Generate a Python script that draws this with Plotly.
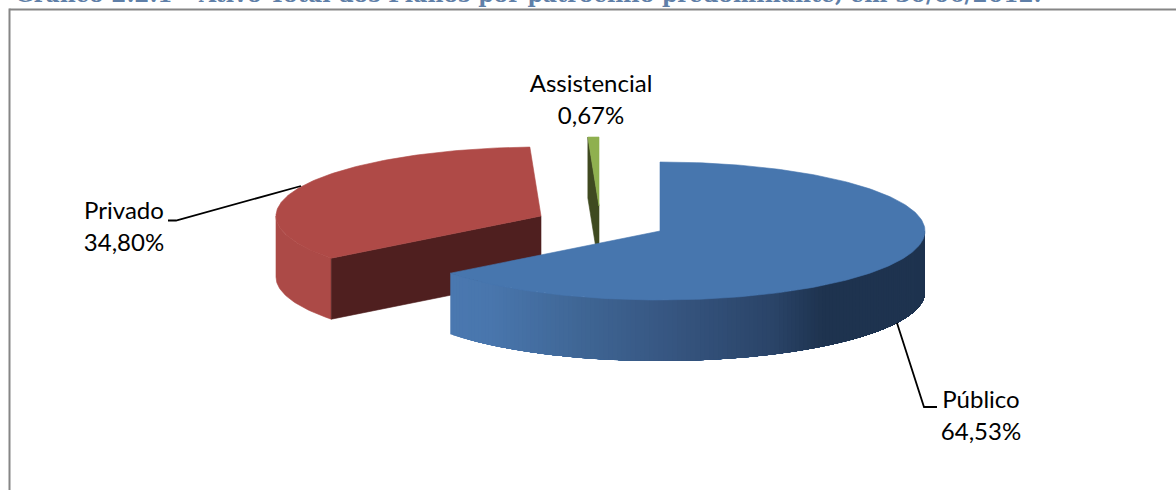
import math
import plotly.graph_objects as go

# ---- data ----
categories = ["Público", "Privado", "Assistencial"]
shares = [64.53, 34.80, 0.67]
title_text = "Gráfico 2.2.1 – Ativo Total dos Planos por patrocínio predominante, em 30/06/2012."

# ---- drawing parameters (projection of the 3-D pie, canvas units) ----
W, H = 1176, 490
RX, RY, DEPTH = 265.0, 69.0, 61.0
apex = {"Público": (660, 231), "Privado": (541, 216), "Assistencial": (599, 206)}
top_col = {"Público": "#4776AE", "Privado": "#AF4A47", "Assistencial": "#8FB04F"}
cut_col = {"Privado": "#4F1F1F", "Assistencial": "#3F4A20"}
label_pos = {"Público": (981, 418), "Privado": (124, 229), "Assistencial": (591, 102)}
leaders = {"Público": ([897, 924, 937], [323, 407, 407]),
           "Privado": ([301, 176, 168], [186, 220.5, 220.5])}
blue_stops = [(450, (74, 120, 176)), (490, (73, 118, 173)), (580, (63, 102, 149)),
              (673, (54, 85, 128)), (773, (42, 68, 104)), (823, (30, 51, 79)), (925, (30, 51, 79))]


def point(name, deg, drop=0.0):
    a = math.radians(deg)
    cx, cy = apex[name]
    return cx + RX * math.sin(a), cy - RY * math.cos(a) + drop


def arc(name, d0, d1, drop=0.0, step=1.0):
    n = max(2, int(abs(d1 - d0) / step) + 1)
    pts = [point(name, d0 + (d1 - d0) * i / (n - 1), drop) for i in range(n)]
    return [p[0] for p in pts], [p[1] for p in pts]


def blue_colour(x):
    for (x0, c0), (x1, c1) in zip(blue_stops, blue_stops[1:]):
        if x <= x1:
            t = max(0.0, (x - x0) / (x1 - x0))
            return "rgb(%d,%d,%d)" % tuple(round(a + (b - a) * t) for a, b in zip(c0, c1))
    return "rgb(%d,%d,%d)" % blue_stops[-1][1]


def poly(xs, ys, colour, outline=0.6):
    return go.Scatter(x=xs + xs[:1], y=ys + ys[:1], mode="lines", fill="toself", fillcolor=colour,
                      line=dict(color=colour, width=outline), hoverinfo="skip", showlegend=False)


# slice spans, clockwise from 12 o'clock
spans = {}
start = 0.0
for name, s in zip(categories, shares):
    spans[name] = (start, start + s * 3.6)
    start += s * 3.6

fig = go.Figure()

# Assistencial
d0, d1 = spans["Assistencial"]
p0 = point("Assistencial", d0)
ax, ay = apex["Assistencial"]
fig.add_trace(poly([p0[0], ax, ax, p0[0]], [p0[1], ay, ay + DEPTH, p0[1] + DEPTH], cut_col["Assistencial"]))
xs, ys = arc("Assistencial", d0, d1, step=0.5)
fig.add_trace(poly(xs + [ax], ys + [ay], top_col["Assistencial"]))

# Privado
d0, d1 = spans["Privado"]
wall_end = 270.0
xa, ya = arc("Privado", d0, wall_end)
xb, yb = arc("Privado", wall_end, d0, drop=DEPTH)
fig.add_trace(poly(xa + xb, ya + yb, "#AC4A47"))
p0 = point("Privado", d0)
ax, ay = apex["Privado"]
fig.add_trace(poly([ax, p0[0], p0[0], ax], [ay, p0[1], p0[1] + DEPTH, ay + DEPTH], cut_col["Privado"]))
xs, ys = arc("Privado", d0, d1)
fig.add_trace(poly(xs + [ax], ys + [ay], top_col["Privado"]))

# Público: outer wall, each band overlaps the next to avoid seams
d0, d1 = spans["Público"]
deg = d1
while deg > 90.0:
    nxt = max(deg - 1.0, 90.0)
    xa, ya = arc("Público", 90.0, deg, step=1.0)
    xb, yb = arc("Público", deg, 90.0, drop=DEPTH, step=1.0)
    xm = (point("Público", deg)[0] + point("Público", nxt)[0]) / 2
    fig.add_trace(poly(xa + xb, ya + yb, blue_colour(xm), outline=0))
    deg = nxt
ax, ay = apex["Público"]
xs, ys = arc("Público", d0, d1)
fig.add_trace(poly(xs + [ax], ys + [ay], top_col["Público"]))

# leader lines
for name, (lx, ly) in leaders.items():
    fig.add_trace(go.Scatter(x=lx, y=ly, mode="lines", line=dict(color="#000000", width=1.8),
                             hoverinfo="skip", showlegend=False))

# data labels
fig.add_trace(go.Scatter(
    x=[label_pos[c][0] for c in categories],
    y=[label_pos[c][1] for c in categories],
    mode="text",
    text=[f"{c}<br>{s:.2f}%".replace(".", ",") for c, s in zip(categories, shares)],
    textposition="middle center",
    textfont=dict(family="Lato", size=24, color="#000000"),
    hoverinfo="skip", showlegend=False))

# cropped title at the top of the picture
fig.add_trace(go.Scatter(
    x=[15], y=[-4], mode="text", text=[f"<b>{title_text}</b>"],
    textposition="middle right",
    textfont=dict(family="DejaVu Serif", size=22, color="#5F7FA8"),
    hoverinfo="skip", showlegend=False))

fig.update_layout(
    width=W, height=H, margin=dict(l=0, r=0, t=0, b=0),
    paper_bgcolor="#FFFFFF", plot_bgcolor="#FFFFFF",
    xaxis=dict(range=[0, W], visible=False, fixedrange=True),
    yaxis=dict(range=[H, 0], visible=False, fixedrange=True),
    shapes=[dict(type="line", xref="x", yref="y", x0=9.5, x1=W + 5, y0=9.5, y1=9.5,
                 line=dict(color="#868686", width=2), layer="below"),
            dict(type="line", xref="x", yref="y", x0=9.5, x1=9.5, y0=8.5, y1=H + 5,
                 line=dict(color="#868686", width=2), layer="below")],
)

fig.write_html("out.html", config={"displayModeBar": False},
               post_script="document.body.style.margin='0';document.documentElement.style.overflow='hidden';")
